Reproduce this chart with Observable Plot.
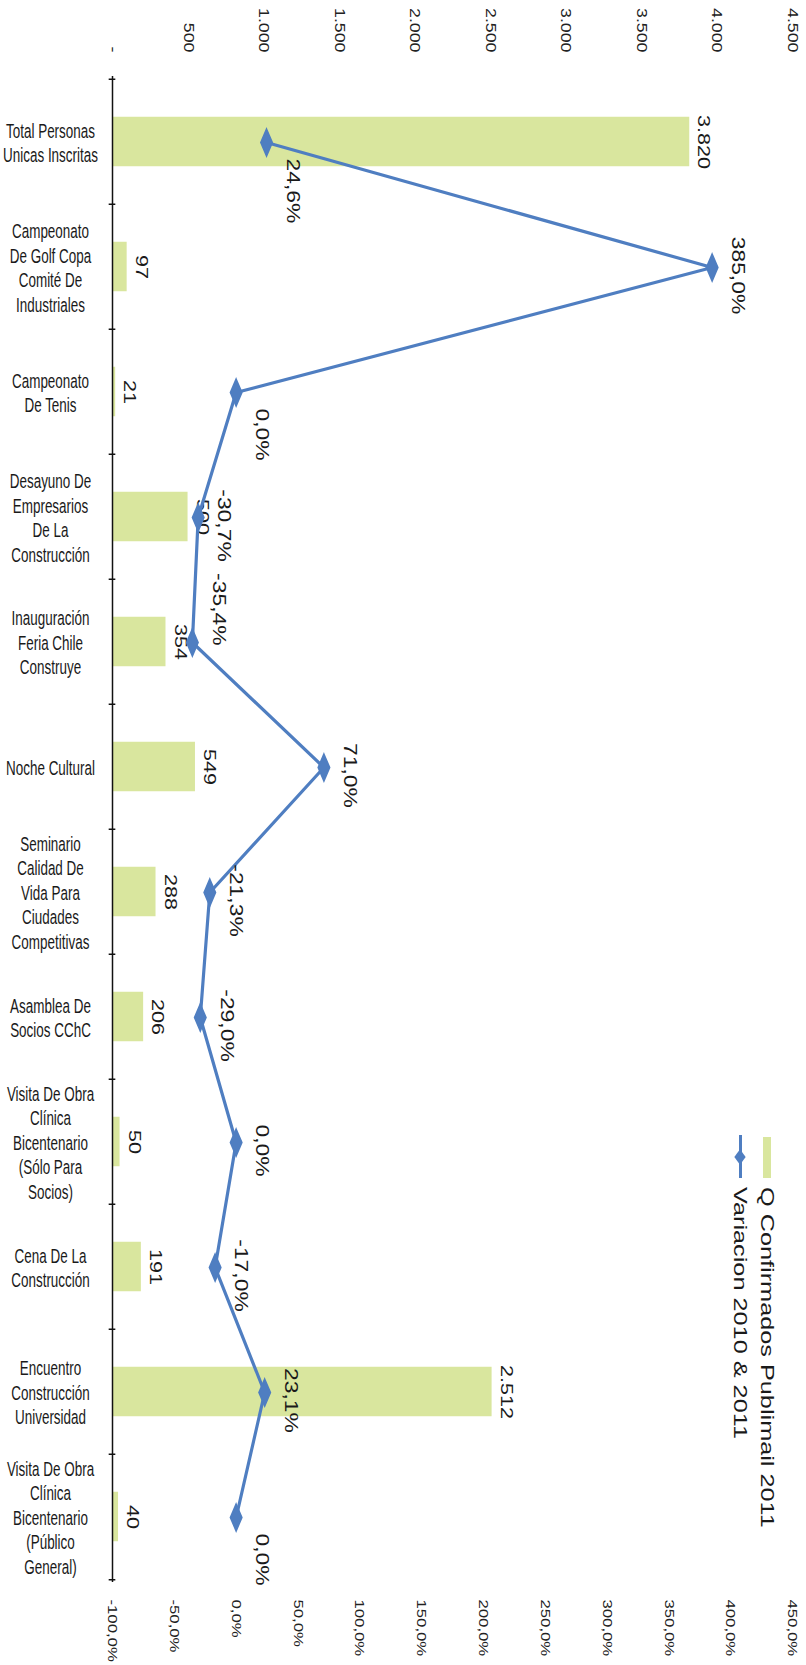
<!DOCTYPE html>
<html><head><meta charset="utf-8">
<script src="https://cdn.jsdelivr.net/npm/d3@7"></script>
<script src="https://cdn.jsdelivr.net/npm/@observablehq/plot@0.6"></script>
<style>
body{margin:0;background:#fff;}
#wrap{position:relative;width:806px;height:1665px;overflow:hidden;font-family:"Liberation Sans",Arial,sans-serif;color:#1a1a1a;}
#wrap svg{position:absolute;left:0;top:0;background:transparent !important;}
.legtxt{position:absolute;white-space:nowrap;font-size:19px;line-height:19px;transform-origin:0 0;transform:rotate(90deg) scaleX(1.33) translateY(-50%);}
.legsw{position:absolute;}
</style></head><body><div id="wrap"></div>
<script>
const categories = [
  "Total Personas Unicas Inscritas",
  "Campeonato De Golf Copa Comité De Industriales",
  "Campeonato De Tenis",
  "Desayuno De Empresarios De La Construcción",
  "Inauguración Feria Chile Construye",
  "Noche Cultural",
  "Seminario Calidad De Vida Para Ciudades Competitivas",
  "Asamblea De Socios CChC",
  "Visita De Obra Clínica Bicentenario (Sólo Para Socios)",
  "Cena De La Construcción",
  "Encuentro Construcción Universidad",
  "Visita De Obra Clínica Bicentenario (Público General)"
];
const tickLabels = [
  "Total Personas\nUnicas Inscritas",
  "Campeonato\nDe Golf Copa\nComité De\nIndustriales",
  "Campeonato\nDe Tenis",
  "Desayuno De\nEmpresarios\nDe La\nConstrucción",
  "Inauguración\nFeria Chile\nConstruye",
  "Noche Cultural",
  "Seminario\nCalidad De\nVida Para\nCiudades\nCompetitivas",
  "Asamblea De\nSocios CChC",
  "Visita De Obra\nClínica\nBicentenario\n(Sólo Para\nSocios)",
  "Cena De La\nConstrucción",
  "Encuentro\nConstrucción\nUniversidad",
  "Visita De Obra\nClínica\nBicentenario\n(Público\nGeneral)"
];
const confirmados = [3820, 97, 21, 500, 354, 549, 288, 206, 50, 191, 2512, 40];
const variacion = [24.6, 385.0, 0.0, -30.7, -35.4, 71.0, -21.3, -29.0, 0.0, -17.0, 23.1, 0.0];
const barTicks = [0, 500, 1000, 1500, 2000, 2500, 3000, 3500, 4000, 4500];
const pctTicks = [-100, -50, 0, 50, 100, 150, 200, 250, 300, 350, 400, 450];
const seriesNames = ["Q Confirmados Publimail 2011", "Variacion 2010 & 2011"];

// how each percentage label is anchored along the (rotated) text direction
const pctLabelAnchor = ["start", "middle", "start", "middle", "end", "middle", "middle", "middle", "middle", "middle", "middle", "start"];

const barColor = "#d9e69e", lineColor = "#4f7ec1", ink = "#1a1a1a";
const W = 806, H = 1665, M = {top: 76, right: 14, bottom: 83, left: 112};
const step = (H - M.top - M.bottom) / categories.length;
const barThick = 50;

const rows = categories.map((c, i) => ({cat: c, label: tickLabels[i], q: confirmados[i], v: variacion[i], anchor: pctLabelAnchor[i]}));
const labelOf = Object.fromEntries(rows.map(d => [d.cat, d.label]));
const fmtQ = d => d === 0 ? "-" : d3.format(",")(d).replace(/,/g, ".");
const fmtP = d => d.toFixed(1).replace(".", ",") + "%";

const common = {
  width: W, height: H,
  marginTop: M.top, marginRight: M.right, marginBottom: M.bottom, marginLeft: M.left,
  style: {background: "transparent", fontFamily: "'Liberation Sans', Arial, sans-serif", overflow: "visible"}
};

const p1 = Plot.plot({
  ...common,
  x: {domain: [0, 4500], label: null},
  y: {type: "band", domain: categories, padding: 0, label: null},
  marks: [
    Plot.barX(rows, {x: "q", y: "cat", fill: barColor, insetTop: (step - barThick) / 2, insetBottom: (step - barThick) / 2}),
    Plot.ruleX([0], {stroke: "#111", strokeWidth: 1.5}),
    Plot.ruleY(rows, {y: "cat", dy: -step / 2, x1: -22, x2: 22, stroke: "#111", strokeWidth: 1.5}),
    Plot.ruleY(rows.slice(-1), {y: "cat", dy: step / 2, x1: -22, x2: 22, stroke: "#111", strokeWidth: 1.5}),
    Plot.axisX(barTicks, {anchor: "top", tickSize: 0, tickPadding: 24, tickRotate: 90, tickFormat: fmtQ, fontSize: 14, fill: "#222"}),
    Plot.axisY({tickSize: 0, tickPadding: 62, textAnchor: "middle", tickFormat: d => labelOf[d], fontSize: 19.5, lineHeight: 1.26, fill: ink}),
    Plot.text(rows, {x: "q", y: "cat", text: d => fmtQ(d.q), rotate: 90, dx: 14, textAnchor: "middle", lineAnchor: "middle", fontSize: 17, fill: ink})
  ]
});

const pctLabel = (anchor, dy) => Plot.text(rows.filter(d => d.anchor === anchor), {
  x: "v", y: "cat", text: d => fmtP(d.v), rotate: 90, dx: 26, dy, textAnchor: anchor, lineAnchor: "middle", fontSize: 18, fill: ink
});

const p2 = Plot.plot({
  ...common,
  x: {domain: [-100, 450], label: null},
  y: {type: "point", domain: categories, padding: 0.5, axis: null, label: null},
  marks: [
    Plot.line(rows, {x: "v", y: "cat", stroke: lineColor, strokeWidth: 3.2}),
    Plot.dot(rows, {x: "v", y: "cat", symbol: "diamond", r: 6, fill: lineColor, stroke: lineColor}),
    pctLabel("start", 16),
    pctLabel("middle", 8),
    pctLabel("end", 3),
    Plot.axisX(pctTicks, {anchor: "bottom", tickSize: 0, tickPadding: 17, tickRotate: 90, tickFormat: fmtP, fontSize: 13.5, fill: "#222"})
  ]
});

function stretch(svg, sel, sx, sy) {
  svg.querySelectorAll(sel).forEach(t => {
    const tr = t.getAttribute("transform") || "";
    t.setAttribute("transform", tr + ` scale(${sx},${sy})`);
  });
}
const wrap = document.getElementById("wrap");
wrap.appendChild(p1);
wrap.appendChild(p2);
stretch(p1, 'g[aria-label="x-axis tick label"] text', 1.27, 1);
stretch(p2, 'g[aria-label="x-axis tick label"] text', 1.24, 1);
for (const svg of [p1, p2]) {
  stretch(svg, 'g[aria-label="text"] text', 1.27, 1);
  stretch(svg, 'g[aria-label="y-axis tick label"] text', 0.69, 1);
  stretch(svg, 'g[aria-label="dot"] path', 1, 1.35);
}

// legend (rotated, inside the plot area)
function addLegendText(txt, cx, top) {
  const d = document.createElement("div");
  d.className = "legtxt";
  d.textContent = txt;
  d.style.left = cx + "px";
  d.style.top = top + "px";
  wrap.appendChild(d);
}
const sw = document.createElement("div");
sw.className = "legsw";
Object.assign(sw.style, {left: "763px", top: "1137px", width: "8px", height: "41px", background: barColor});
wrap.appendChild(sw);
addLegendText(seriesNames[0], 767, 1187);
const ln = document.createElement("div");
ln.className = "legsw";
Object.assign(ln.style, {left: "738.5px", top: "1135px", width: "3px", height: "43px", background: lineColor});
wrap.appendChild(ln);
const dm = document.createElement("div");
dm.className = "legsw";
Object.assign(dm.style, {left: "735px", top: "1152px", width: "10px", height: "10px", background: lineColor, transform: "scale(0.8,1.1) rotate(45deg)"});
wrap.appendChild(dm);
addLegendText(seriesNames[1], 740, 1187);
</script></body></html>
